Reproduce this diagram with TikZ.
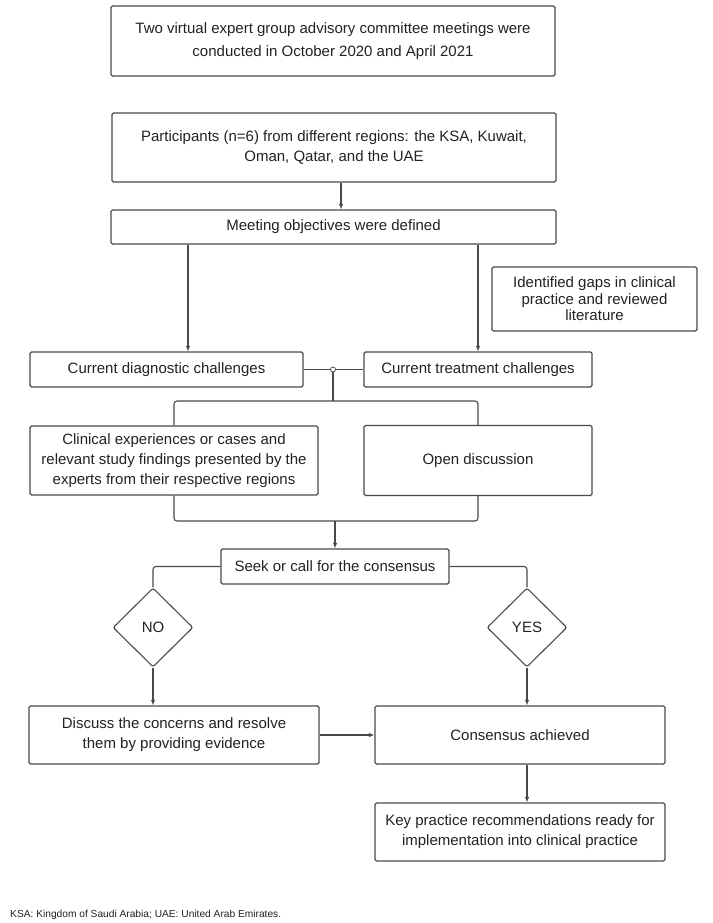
\documentclass[tikz,border=0pt]{standalone}
\usepackage{fontspec}
\setmainfont{Liberation Sans}
\usetikzlibrary{shapes.geometric,arrows.meta}
\definecolor{bordc}{HTML}{4A4A4A}
\definecolor{textc}{HTML}{222222}
\begin{document}
\begin{tikzpicture}[x=1pt,y=-1pt,
  box/.style={draw=bordc, line width=1.1pt, rounded corners=1.5pt, align=center, inner sep=0pt, text=textc,
    font=\fontsize{15}{20}\selectfont},
  dia/.style={draw=bordc, line width=1.1pt, rounded corners=2pt, diamond, inner sep=0pt, text=textc,
    minimum width=80pt, minimum height=79pt, font=\fontsize{15}{20}\selectfont},
  conn/.style={draw=bordc, line width=1.1pt, rounded corners=3pt},
  arr/.style={conn, -{Latex[length=5.5pt,width=4.5pt]}}]
\useasboundingbox (0,0) rectangle (712,923);
\fill[white] (0,0) rectangle (712,923);

\node[box, minimum width=444pt, minimum height=70pt, font=\fontsize{15}{23}\selectfont] (b1) at (333,41)
  {Two virtual expert group advisory committee meetings were\\conducted in October 2020 and April 2021};
\node[box, minimum width=444pt, minimum height=69pt] (b2) at (334,147.5)
  {Participants (n=6) from different regions: the KSA, Kuwait,\\Oman, Qatar, and the UAE};
\node[box, minimum width=445pt, minimum height=34pt] (b3) at (333.5,227) {Meeting objectives were defined};
\node[box, minimum width=205pt, minimum height=64pt, font=\fontsize{15}{16.5}\selectfont] (gaps) at (594.5,299)
  {Identified gaps in clinical\\practice and reviewed\\literature};
\node[box, minimum width=273pt, minimum height=35pt] (diag) at (166.5,369.5) {Current diagnostic challenges};
\node[box, minimum width=228pt, minimum height=35pt] (treat) at (478,369.5) {Current treatment challenges};
\node[box, minimum width=288pt, minimum height=69pt] (clin) at (174,460.5)
  {Clinical experiences or cases and\\relevant study findings presented by the\\experts from their respective regions};
\node[box, minimum width=228pt, minimum height=70pt] (open) at (478,460.5) {Open discussion};
\node[box, minimum width=228pt, minimum height=35pt] (seek) at (335,566.5) {Seek or call for the consensus};
\node[dia] (no) at (153,627.5) {NO};
\node[dia] (yes) at (527,627.5) {YES};
\node[box, minimum width=290pt, minimum height=58pt] (disc) at (174,735)
  {Discuss the concerns and resolve\\them by providing evidence};
\node[box, minimum width=290pt, minimum height=58pt] (cons) at (520,735) {Consensus achieved};
\node[box, minimum width=290pt, minimum height=58pt] (key) at (520,832)
  {Key practice recommendations ready for\\implementation into clinical practice};
\node[anchor=west, inner sep=0pt, text=textc, font=\fontsize{10.2}{12}\selectfont] (foot) at (10,915)
  {KSA: Kingdom of Saudi Arabia; UAE: United Arab Emirates.};

\coordinate (x2) at (341,0);
\coordinate (xl) at (188,0);
\coordinate (jy) at (0,401);
\coordinate (by) at (0,521);

\draw[arr] (b2.south -| x2) -- (b3.north -| x2);
\draw[arr] (b3.south -| xl) -- (diag.north -| xl);
\draw[arr] (b3.south -| treat.north) -- (treat.north);

\draw[conn] (diag.east) -- (treat.west);
\node[circle, draw=bordc, fill=white, line width=0.8pt, inner sep=0pt, minimum size=5pt] (j) at (333,369.5) {};
\draw[conn] (j.south) -- (j |- jy);
\draw[conn] (clin.north) -- (clin.north |- jy) -- (open.north |- jy) -- (open.north);

\draw[conn] (clin.south) -- (clin.south |- by) -- (open.south |- by) -- (open.south);
\draw[arr] (seek.north |- by) -- (seek.north);

\draw[conn] (seek.west) -- (seek.west -| no.north) -- (no.north);
\draw[conn] (seek.east) -- (seek.east -| yes.north) -- (yes.north);

\draw[arr] (no.south) -- (no.south |- disc.north);
\draw[arr] (yes.south) -- (yes.south |- cons.north);
\draw[arr] (disc.east) -- (cons.west);
\draw[arr] (cons.south -| yes.south) -- (key.north -| yes.south);
\end{tikzpicture}
\end{document}
